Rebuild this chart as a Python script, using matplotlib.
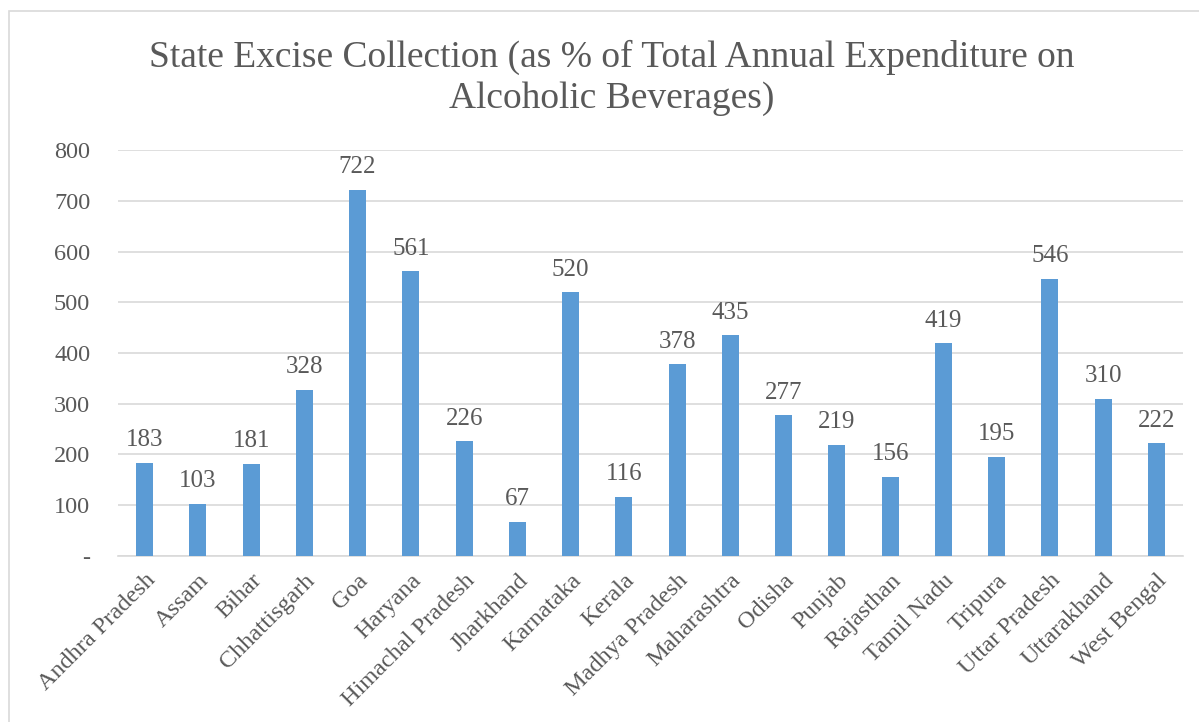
import numpy as np
import matplotlib.pyplot as plt
from matplotlib.patches import Rectangle

states = ['Andhra Pradesh', 'Assam', 'Bihar', 'Chhattisgarh', 'Goa', 'Haryana',
          'Himachal Pradesh', 'Jharkhand', 'Karnataka', 'Kerala', 'Madhya Pradesh',
          'Maharashtra', 'Odisha', 'Punjab', 'Rajasthan', 'Tamil Nadu', 'Tripura',
          'Uttar Pradesh', 'Uttarakhand', 'West Bengal']
excise = [183, 103, 181, 328, 722, 561, 226, 67, 520, 116, 378, 435, 277, 219,
          156, 419, 195, 546, 310, 222]
yticks = [0, 100, 200, 300, 400, 500, 600, 700, 800]
ytick_labels = ['-', '100', '200', '300', '400', '500', '600', '700', '800']

txt = '#595959'
plt.rcParams['font.family'] = ['Liberation Serif', 'DejaVu Serif']

fig = plt.figure(figsize=(11.99, 7.22), dpi=100)
ax = fig.add_axes([0.0984, 0.230, 0.8883, 0.562])

# chart border
fig.patches.append(Rectangle((9/1199, -0.1), 1.2, 1.1 - 11/722,
                             transform=fig.transFigure, fill=False,
                             edgecolor='#D9D9D9', linewidth=1.2))

x = np.arange(len(states))
ax.bar(x, excise, width=0.32, color='#5B9BD5', zorder=3)
for xi, v in zip(x, excise):
    ax.annotate(str(v), (xi, v), xytext=(0, 12), textcoords='offset points',
                ha='center', va='baseline', fontsize=18, color=txt)

ax.set_xlim(-0.5, len(states) - 0.5)
ax.set_ylim(0, 800)
ax.set_yticks(yticks)
ax.set_yticklabels(ytick_labels, fontsize=17.5, color=txt)
ax.set_xticks(x)
ax.set_xticklabels(states, rotation=45, ha='right', rotation_mode='anchor',
                   fontsize=17.5, color=txt)
ax.tick_params(axis='both', length=0)
ax.tick_params(axis='y', pad=20)
ax.tick_params(axis='x', pad=10)
ax.grid(axis='y', color='#D9D9D9', linewidth=1.2, zorder=0)
for s in ['top', 'right', 'left']:
    ax.spines[s].set_visible(False)
ax.spines['bottom'].set_color('#D9D9D9')
ax.spines['bottom'].set_linewidth(1.2)

fig.text(0.51, 1 - 108/722, 'State Excise Collection (as % of Total Annual Expenditure on\nAlcoholic Beverages)',
         ha='center', va='baseline', fontsize=27, color=txt, linespacing=1.25)

fig.savefig('out.png', dpi=100)
